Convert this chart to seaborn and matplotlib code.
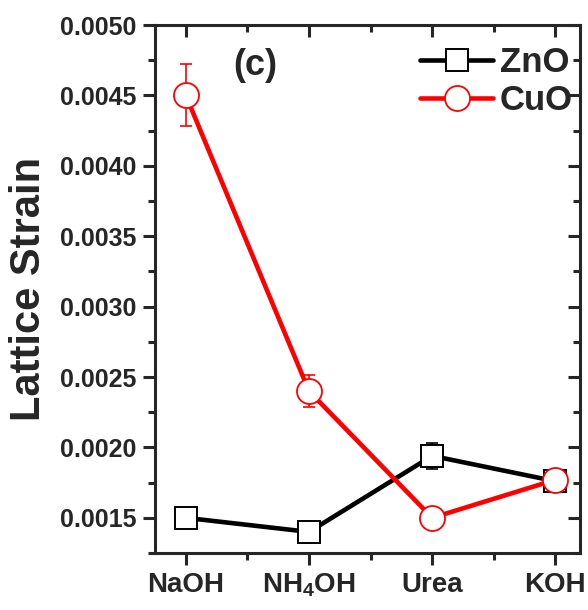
import numpy as np
import pandas as pd
import matplotlib
matplotlib.use('Agg')
import matplotlib.pyplot as plt
from matplotlib.ticker import MultipleLocator
import seaborn as sns

# Data
categories = ['NaOH', 'NH$_4$OH', 'Urea', 'KOH']
zno_strain = [0.00150, 0.00140, 0.00194, 0.00176]
zno_err = [0.0, 0.0, 0.00009, 0.00007]
cuo_strain = [0.00450, 0.00240, 0.00150, 0.00177]
cuo_err = [0.00022, 0.000115, 0.0, 0.00007]

sns.set_style('ticks')
plt.rcParams['font.family'] = ['Liberation Sans', 'DejaVu Sans']
plt.rcParams['font.weight'] = 'bold'
plt.rcParams['mathtext.default'] = 'regular'

pos = np.arange(len(categories))
df = pd.DataFrame({
    'pos': np.concatenate([pos, pos]),
    'strain': zno_strain + cuo_strain,
    'err': zno_err + cuo_err,
    'material': ['ZnO'] * len(pos) + ['CuO'] * len(pos),
})

fig = plt.figure(figsize=(5.88, 6.10), dpi=100)
ax = fig.add_axes([0.2636, 0.0934, 0.7228, 0.8656])

styles = {'ZnO': ('black', 's', 16, 1.4), 'CuO': ('red', 'o', 18, 1.3)}
for name in ['ZnO', 'CuO']:
    sub = df[df['material'] == name]
    color, marker, ms, mew = styles[name]
    has_err = sub['err'] > 0
    ax.errorbar(sub['pos'][has_err], sub['strain'][has_err], yerr=sub['err'][has_err],
                fmt='none', ecolor=color, elinewidth=1.2, capsize=4.5, capthick=1.2, zorder=2)
    sns.lineplot(data=sub, x='pos', y='strain', ax=ax, color=color, linewidth=3.3,
                 marker=marker, markersize=ms, markerfacecolor='white',
                 markeredgecolor=color, markeredgewidth=mew, label=name, zorder=3)

ax.set_xlim(-0.25, 3.2)
ax.set_ylim(0.00125, 0.0050)
ax.set_xticks(pos)
ax.set_xticklabels(categories)
ax.xaxis.set_minor_locator(MultipleLocator(0.5))
ax.yaxis.set_major_locator(MultipleLocator(0.0005))
ax.yaxis.set_minor_locator(MultipleLocator(0.00025))
ax.yaxis.set_major_formatter(matplotlib.ticker.FormatStrFormatter('%.4f'))

for s in ax.spines.values():
    s.set_visible(True)
    s.set_linewidth(2.2)
ax.tick_params(which='both', width=2.2, top=False, right=False)
ax.tick_params(which='major', length=8.5)
ax.tick_params(which='minor', length=5)

# inward ticks on top/right via secondary axes
topax = ax.secondary_xaxis('top')
topax.set_xticks(pos)
topax.xaxis.set_minor_locator(MultipleLocator(0.5))
topax.tick_params(which='both', direction='in', labeltop=False, width=2.2)
topax.tick_params(which='major', length=8.5)
topax.tick_params(which='minor', length=5)
rightax = ax.secondary_yaxis('right')
rightax.yaxis.set_major_locator(MultipleLocator(0.0005))
rightax.yaxis.set_minor_locator(MultipleLocator(0.00025))
rightax.tick_params(which='both', direction='in', labelright=False, width=2.2)
rightax.tick_params(which='major', length=8.5)
rightax.tick_params(which='minor', length=5)
for s in list(topax.spines.values()) + list(rightax.spines.values()):
    s.set_visible(False)

for lbl in ax.get_yticklabels():
    lbl.set_fontsize(18)
    lbl.set_fontweight('bold')
for lbl in ax.get_xticklabels():
    lbl.set_fontsize(20)
    lbl.set_fontweight('bold')
ax.tick_params(axis='y', pad=5)
ax.tick_params(axis='x', pad=5)

ax.set_xlabel('')
ax.set_ylabel('Lattice Strain', fontsize=30, fontweight='bold', labelpad=8)

ax.text(0.184, 0.924, '(c)', transform=ax.transAxes, fontsize=26,
        fontweight='bold', va='center', ha='left')

leg = ax.legend(loc='upper right', bbox_to_anchor=(1.045, 1.01), frameon=False,
                handlelength=2.1, handletextpad=0.2, labelspacing=0.15,
                borderaxespad=0.35, prop={'size': 25, 'weight': 'bold'})

fig.savefig('out.png', dpi=100, facecolor='white')
